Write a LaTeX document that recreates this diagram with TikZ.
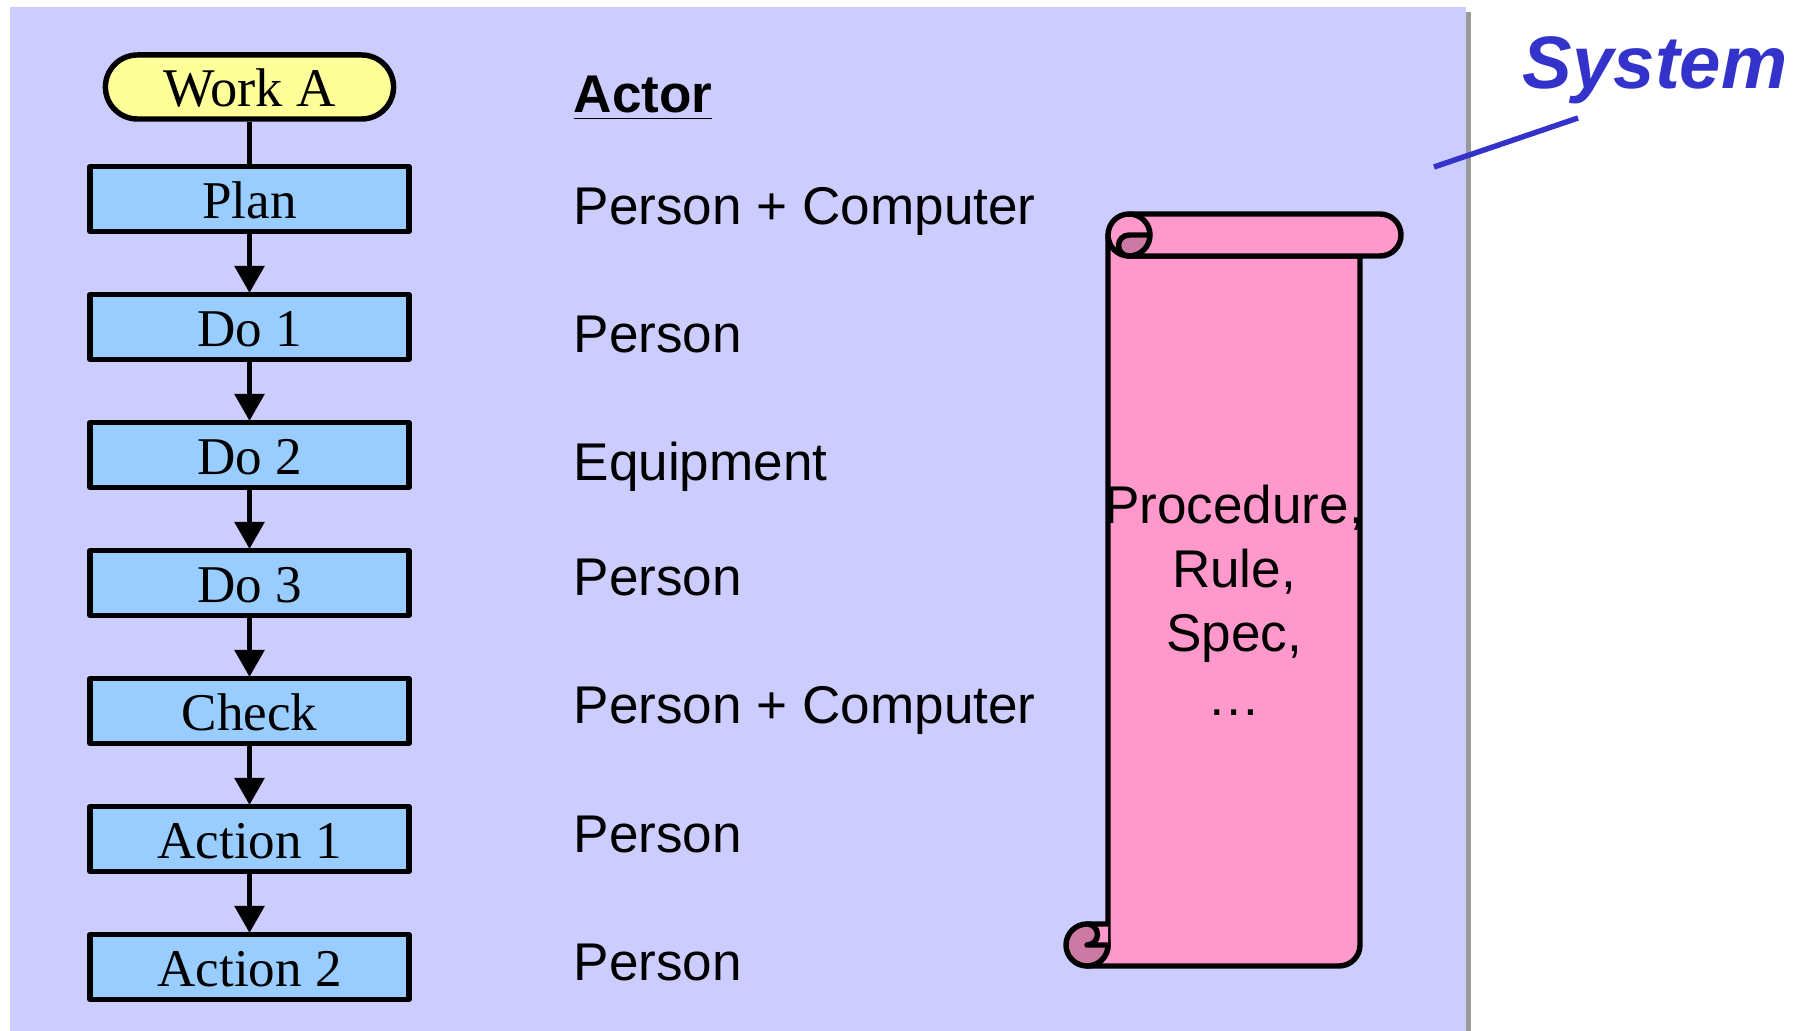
\documentclass[tikz,border=0pt]{standalone}
\usepackage{fontspec}
\setmainfont{Liberation Serif}
\setsansfont{Liberation Sans}
\usetikzlibrary{arrows.meta}
\definecolor{panelc}{HTML}{CCCCFF}
\definecolor{shadowc}{HTML}{999999}
\definecolor{stepc}{HTML}{99CCFF}
\definecolor{startc}{HTML}{FFFF99}
\definecolor{scrollc}{HTML}{FF99CC}
\definecolor{curlc}{HTML}{CC7AA3}
\definecolor{systemc}{HTML}{3333CC}
\tikzset{outline/.style={draw=black,line width=1.55pt,line join=round},
  stepbox/.style={outline,fill=stepc,minimum width=3.19cm,minimum height=0.645cm,inner sep=0pt,text height=10.9pt,text depth=0pt,font=\fontsize{15.1}{18}\selectfont},
  startbox/.style={outline,fill=startc,rounded corners=0.32cm,minimum width=2.88cm,minimum height=0.64cm,inner sep=0pt,text height=10.9pt,text depth=0pt,font=\fontsize{15.5}{18}\selectfont},
  actor/.style={anchor=base west,inner sep=0pt,font=\sffamily\fontsize{15.1}{18}\selectfont},
  flow/.style={black,line width=1.55pt,shorten >=-0.01cm,-{Triangle[length=0.27cm,width=0.29cm]}}}

\begin{document}
\begin{tikzpicture}[x=0.01cm,y=-0.01cm]
       \useasboundingbox (0,0) rectangle (1806,1031);
       \fill[shadowc] (15,12) rectangle (1471,1031);
       \fill[panelc] (10,7) rectangle (1466,1031);
       \begin{scope}
        \node[startbox] (worka) at (249.5,87) {Work A};
        \node[stepbox] (plan) at (249.5,199) {Plan};
        \node[stepbox] (do1) at (249.5,327) {Do 1};
        \node[stepbox] (do2) at (249.5,455) {Do 2};
        \node[stepbox] (do3) at (249.5,583) {Do 3};
        \node[stepbox] (check) at (249.5,711) {Check};
        \node[stepbox] (action1) at (249.5,839) {Action 1};
        \node[stepbox] (action2) at (249.5,967) {Action 2};
        \draw[outline] (worka) -- (plan);
        \draw[flow] (plan) -- (do1);
        \draw[flow] (do1) -- (do2);
        \draw[flow] (do2) -- (do3);
        \draw[flow] (do3) -- (check);
        \draw[flow] (check) -- (action1);
        \draw[flow] (action1) -- (action2);
       \end{scope}
       \begin{scope}
        \node[actor,font=\sffamily\bfseries\fontsize{15.1}{18}\selectfont] (actorhead) at (573,113) {\underline{Actor}};
        \node[actor] (actor1) at (573,225) {Person + Computer};
        \node[actor] (actor2) at (573,353) {Person};
        \node[actor] (actor3) at (573,481) {Equipment};
        \node[actor] (actor4) at (573,596) {Person};
        \node[actor] (actor5) at (573,724) {Person + Computer};
        \node[actor] (actor6) at (573,852) {Person};
        \node[actor] (actor7) at (573,980) {Person};
       \end{scope}
       \begin{scope}
        \filldraw[outline,fill=scrollc] (1108,235) -- (1108,945) arc[start angle=0,end angle=90,radius=21] -- (1339,966) arc[start angle=90,end angle=0,radius=21] -- (1360,256) -- (1129,256) -- cycle;
        \filldraw[outline,fill=curlc] (1087,945) circle[radius=21];
        \fill[scrollc] (1087,924) -- (1108,924) -- (1108,945) -- (1087,945) arc[start angle=90,end angle=-90,radius=10.5] -- cycle;
        \draw[outline] (1108,945) -- (1087,945) arc[start angle=90,end angle=-90,radius=10.5] -- (1108,924);
        \filldraw[outline,fill=scrollc] (1108,235) arc[start angle=180,end angle=270,radius=21] -- (1380,214) arc[start angle=270,end angle=450,radius=21] -- (1129,256) arc[start angle=90,end angle=180,radius=21] -- cycle;
        \filldraw[outline,fill=curlc] (1150,235) -- (1129,235) arc[start angle=270,end angle=90,radius=10.5] arc[start angle=90,end angle=0,radius=21] -- cycle;
        \draw[outline] (1129,214) arc[start angle=270,end angle=360,radius=21];
        \node[inner sep=0pt,align=center,font=\sffamily\fontsize{15.1}{18.2}\selectfont] (scrolltext) at (1234,600.5) {Procedure,\\Rule,\\Spec,\\\dots};
       \end{scope}
       \node[anchor=base west,inner sep=0pt,text=systemc,font=\sffamily\bfseries\itshape\fontsize{21.15}{25}\selectfont] (systemlabel) at (1522,89) {System};
       \coordinate (systemend) at (1434,167);
       \draw[systemc,line width=1.55pt] (1578,118) -- (systemend);
\end{tikzpicture}
\end{document}
